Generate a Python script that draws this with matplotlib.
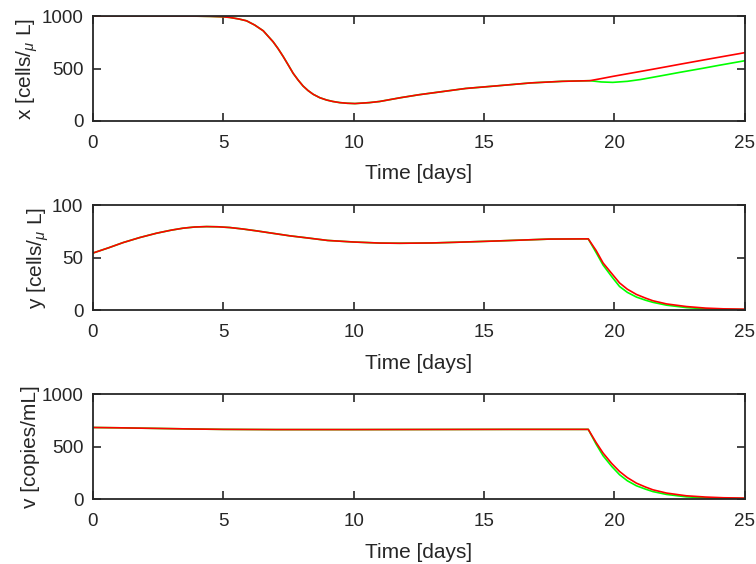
import numpy as np
import matplotlib.pyplot as plt

plt.rcParams['font.family'] = ['Liberation Sans', 'DejaVu Sans']
plt.rcParams['mathtext.fontset'] = 'custom'
plt.rcParams['mathtext.rm'] = 'Liberation Sans'
plt.rcParams['mathtext.it'] = 'Liberation Sans:italic'

# --- data ---
# shared part (both runs identical up to day ~19)
t_x = [0, 2, 4, 4.5, 5.0, 5.25, 5.6, 5.89, 6.2, 6.53, 6.91, 7.1, 7.3, 7.5, 7.68,
       7.87, 8.06, 8.25, 8.45, 8.7, 8.96, 9.2, 9.47, 9.75, 10.05, 10.6, 11.0,
       11.8, 12.5, 13.4, 14.3, 15.5, 16.8, 18.0, 19.06]
x_shared = [1000, 1000, 999, 997, 993, 987, 972, 955, 915, 860, 755, 690, 613, 530,
            454, 390, 333, 290, 254, 222, 200, 186, 175, 169, 166, 175, 186,
            222, 250, 280, 310, 335, 363, 378, 384]
t_x_post = [19.06, 19.5, 19.94, 20.5, 21.0, 21.47, 22.0, 22.5, 23.39, 24.0, 25.0]
x_green_post = [384, 372, 368, 378, 395, 416, 440, 463, 502, 530, 574]
x_red_post = [384, 404, 425, 450, 472, 493, 517, 540, 580, 607, 651]

t_y = [0, 0.6, 1.16, 1.8, 2.44, 3.0, 3.46, 3.9, 4.36, 4.8, 5.25, 5.75, 6.28, 6.9,
       7.55, 8.19, 9, 10, 11, 11.77, 13, 14, 15.5, 17.52, 19.0]
y_shared = [54.5, 59.5, 64.5, 69.3, 73.4, 76.3, 78.2, 79.3, 79.7, 79.5, 78.8, 77.4,
            75.6, 73.3, 70.9, 69, 66.5, 65, 64, 63.8, 64.1, 64.8, 66, 67.8, 68]
t_post = [19.0, 19.3, 19.57, 19.9, 20.2, 20.5, 20.85, 21.2, 21.48, 22.0, 22.76,
          23.5, 24.2, 25.0]
y_green_post = [68, 55, 43, 32, 22.6, 17, 12.5, 9.5, 7.5, 4.8, 2.5, 1.3, 0.8, 0.5]
y_red_post = [68, 57, 45, 35, 26, 20, 15, 11.5, 9, 6, 3.5, 2, 1.3, 1]

t_v = [0, 1, 2, 3, 4, 5, 7, 10, 13, 16, 19.0]
v_shared = [683, 680, 676, 672, 668, 665, 663, 663, 664, 665, 665]
v_green_post = [665, 525, 413, 312, 233, 175, 127, 95, 72, 45, 22, 12, 7, 5]
v_red_post = [665, 540, 439, 340, 264, 205, 152, 115, 89, 58, 32, 20, 13, 10]

ylabels = [r'x [cells/$_{\mu}$ L]', r'y [cells/$_{\mu}$ L]', 'v [copies/mL]']
yticks = [[0, 500, 1000], [0, 50, 100], [0, 500, 1000]]

series = [
    (t_x, x_shared, t_x_post, x_green_post, x_red_post),
    (t_y, y_shared, t_post, y_green_post, y_red_post),
    (t_v, v_shared, t_post, v_green_post, v_red_post),
]

fig = plt.figure(figsize=(7.56, 5.64), dpi=100)
bottoms = [0.7855, 0.450, 0.115]
dark = '#262626'

for i, (t_a, s_a, t_b, g_b, r_b) in enumerate(series):
    ax = fig.add_axes([0.123, bottoms[i], 0.862, 0.186])
    t_all = np.concatenate([t_a, t_b[1:]])
    ax.plot(t_all, np.concatenate([s_a, g_b[1:]]), color='#00ff00', lw=1.2)
    ax.plot(t_all, np.concatenate([s_a, r_b[1:]]), color='#ff0000', lw=1.2)
    ax.set_xlim(0, 25)
    ax.set_ylim(yticks[i][0], yticks[i][-1])
    ax.set_xticks([0, 5, 10, 15, 20, 25])
    ax.set_yticks(yticks[i])
    ax.tick_params(direction='in', top=True, right=True, length=6, width=1.2,
                   labelsize=13.5, colors=dark, pad=7)
    ax.tick_params(axis='x', pad=10)
    for sp in ax.spines.values():
        sp.set_linewidth(1.3)
        sp.set_color(dark)
    ax.set_xlabel('Time [days]', fontsize=15, color=dark, labelpad=9)
    ax.set_ylabel(ylabels[i], fontsize=15, color=dark, labelpad=1)

plt.savefig('out.png', dpi=100)
